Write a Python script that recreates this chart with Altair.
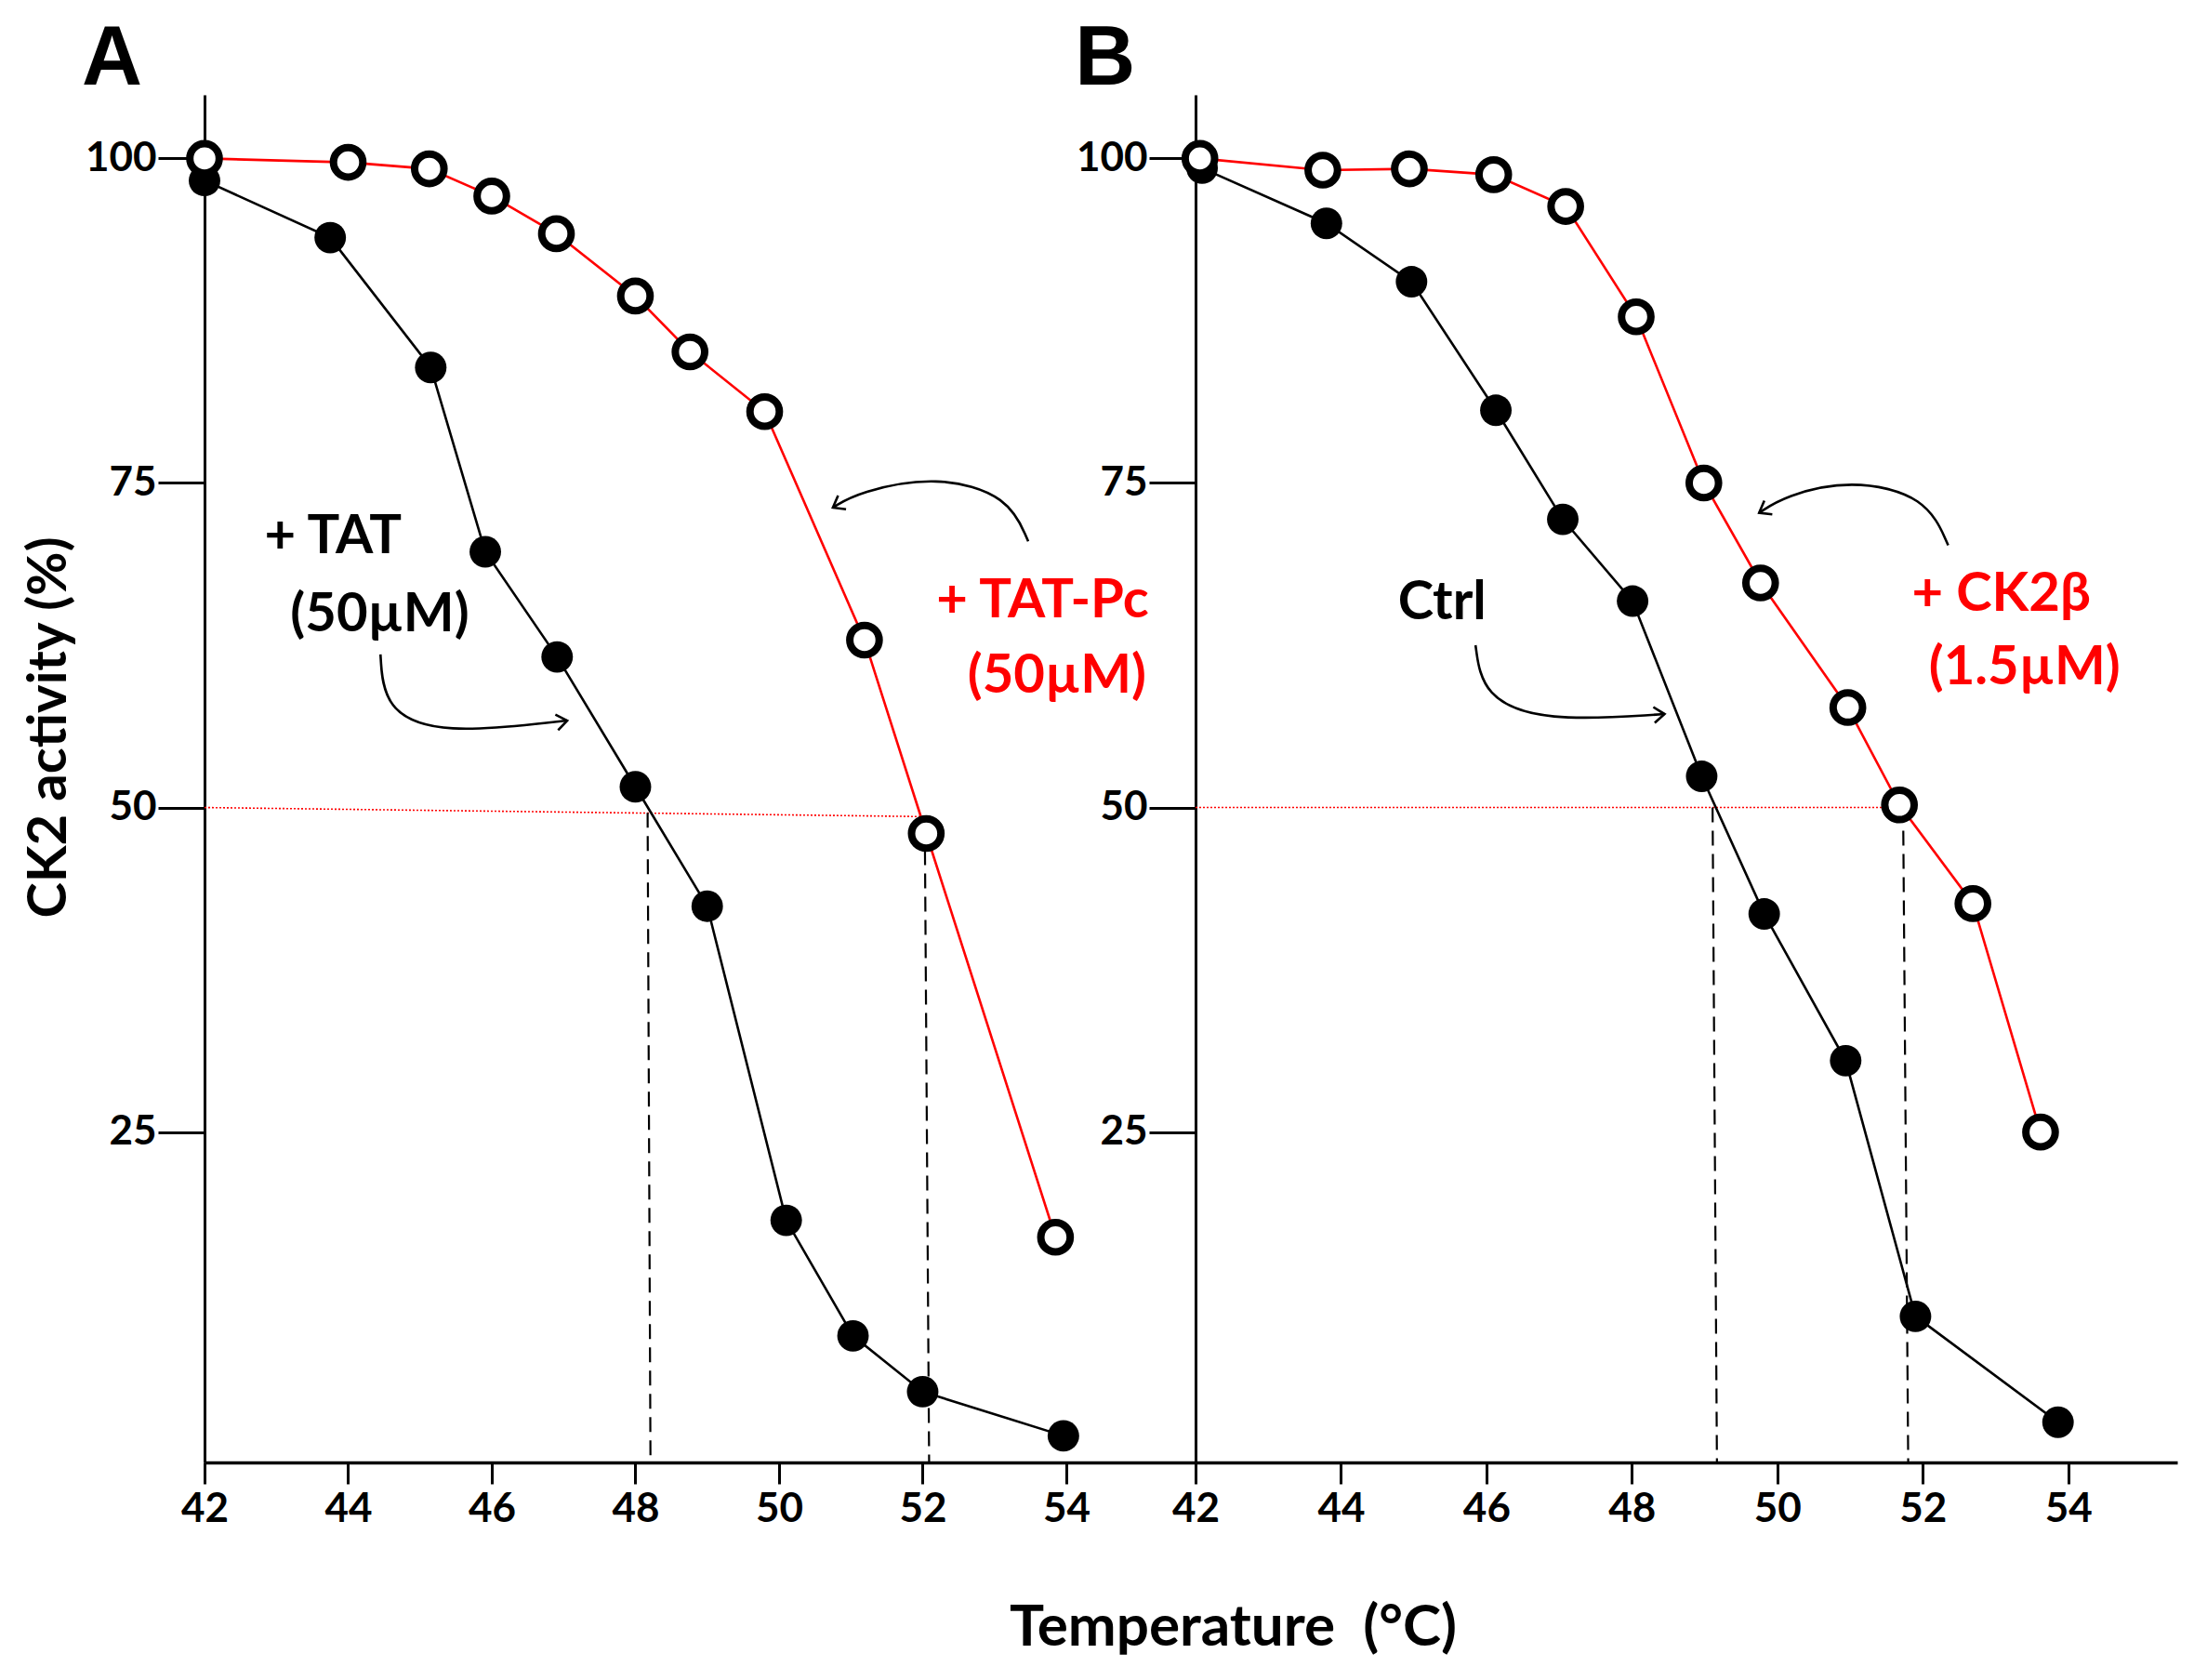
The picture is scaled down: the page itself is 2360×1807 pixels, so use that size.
import pandas as pd
import altair as alt

# Panel A: + TAT (filled) and + TAT-Pc (open)
a_tat_temp = [42.0, 43.75, 45.15, 45.91, 46.91, 48.0, 49.0, 50.1, 51.03, 52.0, 53.96]
a_tat_act = [98.3, 93.9, 83.9, 69.7, 61.6, 51.6, 42.4, 18.2, 9.3, 5.0, 1.6]
a_pc_temp = [42.0, 44.0, 45.13, 46.0, 46.9, 48.0, 48.76, 49.8, 51.19, 52.05, 53.85]
a_pc_act = [100.0, 99.7, 99.2, 97.1, 94.2, 89.4, 85.1, 80.5, 62.9, 48.0, 16.9]

# Panel B: Ctrl (filled) and + CK2beta (open)
b_ctrl_temp = [42.09, 43.8, 44.97, 46.13, 47.05, 48.01, 48.96, 49.82, 50.94, 51.9, 53.86]
b_ctrl_act = [99.25, 95.0, 90.5, 80.6, 72.2, 65.9, 52.4, 41.8, 30.5, 10.8, 2.65]
b_ck2b_temp = [42.06, 43.75, 44.94, 46.1, 47.09, 48.06, 48.99, 49.77, 50.97, 51.68, 52.69, 53.62]
b_ck2b_act = [100.0, 99.1, 99.2, 98.75, 96.3, 87.8, 75.0, 67.3, 57.7, 50.2, 42.6, 25.0]

x_ticks = [42, 44, 46, 48, 50, 52, 54]
y_ticks = [25, 50, 75, 100]

FONT = "Lato"
RED = "#ff0000"
Y_MIN, Y_MAX = -0.45, 104.9


def panel(black_t, black_v, red_t, red_v, x_max, dashes, dotted, labels, arrows, heads,
          letter, width, y_axis_extra, x_axis_extra):
    black = pd.DataFrame({"temp": black_t, "act": black_v})
    red = pd.DataFrame({"temp": red_t, "act": red_v})

    xenc = alt.X("temp:Q", scale=alt.Scale(domain=[42, x_max], nice=False, zero=False),
                 axis=alt.Axis(values=x_ticks, tickSize=23, tickWidth=3, tickColor="black",
                               domainWidth=3.5, domainColor="black", labelFont=FONT,
                               labelFontWeight="bold", labelFontSize=44, labelColor="black",
                               labelPadding=5, labelFlush=False, grid=False, **x_axis_extra))
    yenc = alt.Y("act:Q", scale=alt.Scale(domain=[Y_MIN, Y_MAX], nice=False, zero=False),
                 axis=alt.Axis(values=y_ticks, tickSize=50, tickWidth=3, tickColor="black",
                               domainWidth=3, domainColor="black", labelFont=FONT,
                               labelFontWeight="bold", labelFontSize=44, labelColor="black",
                               labelPadding=2, labelFlush=False, grid=False, **y_axis_extra))

    dotted_line = alt.Chart(pd.DataFrame(dotted)).mark_rule(
        color=RED, strokeWidth=1.6, strokeDash=[2, 2]
    ).encode(x=xenc, x2="temp2:Q", y=yenc, y2="act2:Q")

    dashed_lines = alt.Chart(pd.DataFrame(dashes)).mark_rule(
        color="black", strokeWidth=2.2, strokeDash=[16, 9]
    ).encode(x=xenc, x2="temp2:Q", y=yenc, y2="act2:Q")

    black_line = alt.Chart(black).mark_line(color="black", strokeWidth=2.6).encode(x=xenc, y=yenc)
    red_line = alt.Chart(red).mark_line(color=RED, strokeWidth=2.6).encode(x=xenc, y=yenc)

    black_pts = alt.Chart(black).mark_point(
        shape="circle", filled=True, color="black", size=1150, opacity=1
    ).encode(x=xenc, y=yenc)
    red_pts = alt.Chart(red).mark_point(
        shape="circle", filled=True, fill="white", stroke="black", strokeWidth=8,
        size=1000, opacity=1
    ).encode(x=xenc, y=yenc)

    text = alt.Chart(pd.DataFrame(labels)).mark_text(
        font=FONT, fontWeight="bold", fontSize=58, align="center", baseline="middle"
    ).encode(x=xenc, y=yenc, text="txt:N", color=alt.Color("col:N", scale=None))

    curves = alt.Chart(pd.DataFrame(arrows)).mark_line(
        color="black", strokeWidth=2.6, interpolate="basis"
    ).encode(x=xenc, y=yenc, detail="id:N", order="k:Q")

    tips = alt.Chart(pd.DataFrame(heads)).mark_point(
        shape="M-1,-0.75L0,0L-1,0.75", filled=False, color="black", strokeWidth=2.6,
        size=520, opacity=1
    ).encode(x=xenc, y=yenc, angle=alt.Angle("ang:Q", scale=None))

    # panel letter, sitting above the top left corner of the axes
    tag = alt.Chart(pd.DataFrame(letter)).mark_text(
        font="Liberation Sans", fontWeight="bold", fontSize=90, align="left",
        baseline="alphabetic", color="black"
    ).encode(x=xenc, y=yenc, text="txt:N")

    return alt.layer(
        dotted_line, dashed_lines, black_line, red_line, black_pts, red_pts,
        curves, tips, text, tag
    ).properties(width=width, height=1471)


chart_a = panel(
    a_tat_temp, a_tat_act, a_pc_temp, a_pc_act, 55.8,
    dashes={"temp": [48.17, 52.03], "temp2": [48.21, 52.09],
            "act": [49.6, 48.5], "act2": [Y_MIN, Y_MIN]},
    dotted={"temp": [42.0], "temp2": [52.0], "act": [50.0], "act2": [49.3]},
    labels={"temp": [43.79, 44.44, 53.67, 53.87], "act": [70.8, 64.8, 65.9, 60.1],
            "txt": ["+ TAT", "(50\u00b5M)", "+ TAT-Pc", "(50\u00b5M)"],
            "col": ["black", "black", RED, RED]},
    arrows={"id": [0, 0, 0, 0, 1, 1, 1, 1, 1],
            "k": [0, 1, 2, 3, 0, 1, 2, 3, 4],
            "temp": [44.45, 44.5, 45.3, 47.05, 53.47, 53.2, 52.2, 51.1, 50.75],
            "act": [61.8, 57.5, 55.6, 56.7, 70.5, 74.0, 75.6, 74.3, 73.1]},
    heads={"temp": [47.05, 50.75], "act": [56.7, 73.1], "ang": [350, 150]},
    letter={"temp": [40.29], "act": [105.7], "txt": ["A"]}, width=1066,
    y_axis_extra={"title": "CK2 activity (%)", "titleFont": FONT, "titleFontSize": 58,
                  "titleFontWeight": "bold", "titleColor": "black", "titleX": -167,
                  "titleY": 680, "titleAngle": 270, "titleBaseline": "middle",
                  "titleAlign": "center"},
    x_axis_extra={"title": "Temperature\u00a0 (\u00b0C)", "titleFont": FONT, "titleFontSize": 62,
                  "titleFontWeight": "bold", "titleColor": "black", "titleX": 1106,
                  "titleY": 177, "titleBaseline": "middle", "titleAlign": "center"},
)

chart_b = panel(
    b_ctrl_temp, b_ctrl_act, b_ck2b_temp, b_ck2b_act, 55.5,
    dashes={"temp": [49.11, 51.73], "temp2": [49.17, 51.8],
            "act": [50.0, 50.0], "act2": [Y_MIN, Y_MIN]},
    dotted={"temp": [42.0], "temp2": [51.6], "act": [50.0], "act2": [50.0]},
    labels={"temp": [45.39, 53.08, 53.4], "act": [65.7, 66.4, 60.7],
            "txt": ["Ctrl", "+ CK2\u03b2", "(1.5\u00b5M)"],
            "col": ["black", RED, RED]},
    arrows={"id": [0, 0, 0, 0, 1, 1, 1, 1, 1],
            "k": [0, 1, 2, 3, 0, 1, 2, 3, 4],
            "temp": [45.85, 45.95, 46.8, 48.45, 52.35, 52.05, 51.0, 50.1, 49.75],
            "act": [62.5, 58.5, 56.6, 57.2, 70.2, 74.0, 75.3, 74.0, 72.7]},
    heads={"temp": [48.45, 49.75], "act": [57.2, 72.7], "ang": [355, 150]},
    letter={"temp": [40.34], "act": [105.7], "txt": ["B"]}, width=1056,
    y_axis_extra={"title": None},
    x_axis_extra={"title": None},
)

chart = alt.hconcat(chart_a, chart_b, spacing=0, bounds="flush").properties(
    padding={"left": 16, "top": 10, "right": 5, "bottom": 5}
).configure(background="white").configure_view(stroke=None)

chart.save("out.html", embed_options={"renderer": "svg", "actions": False})
